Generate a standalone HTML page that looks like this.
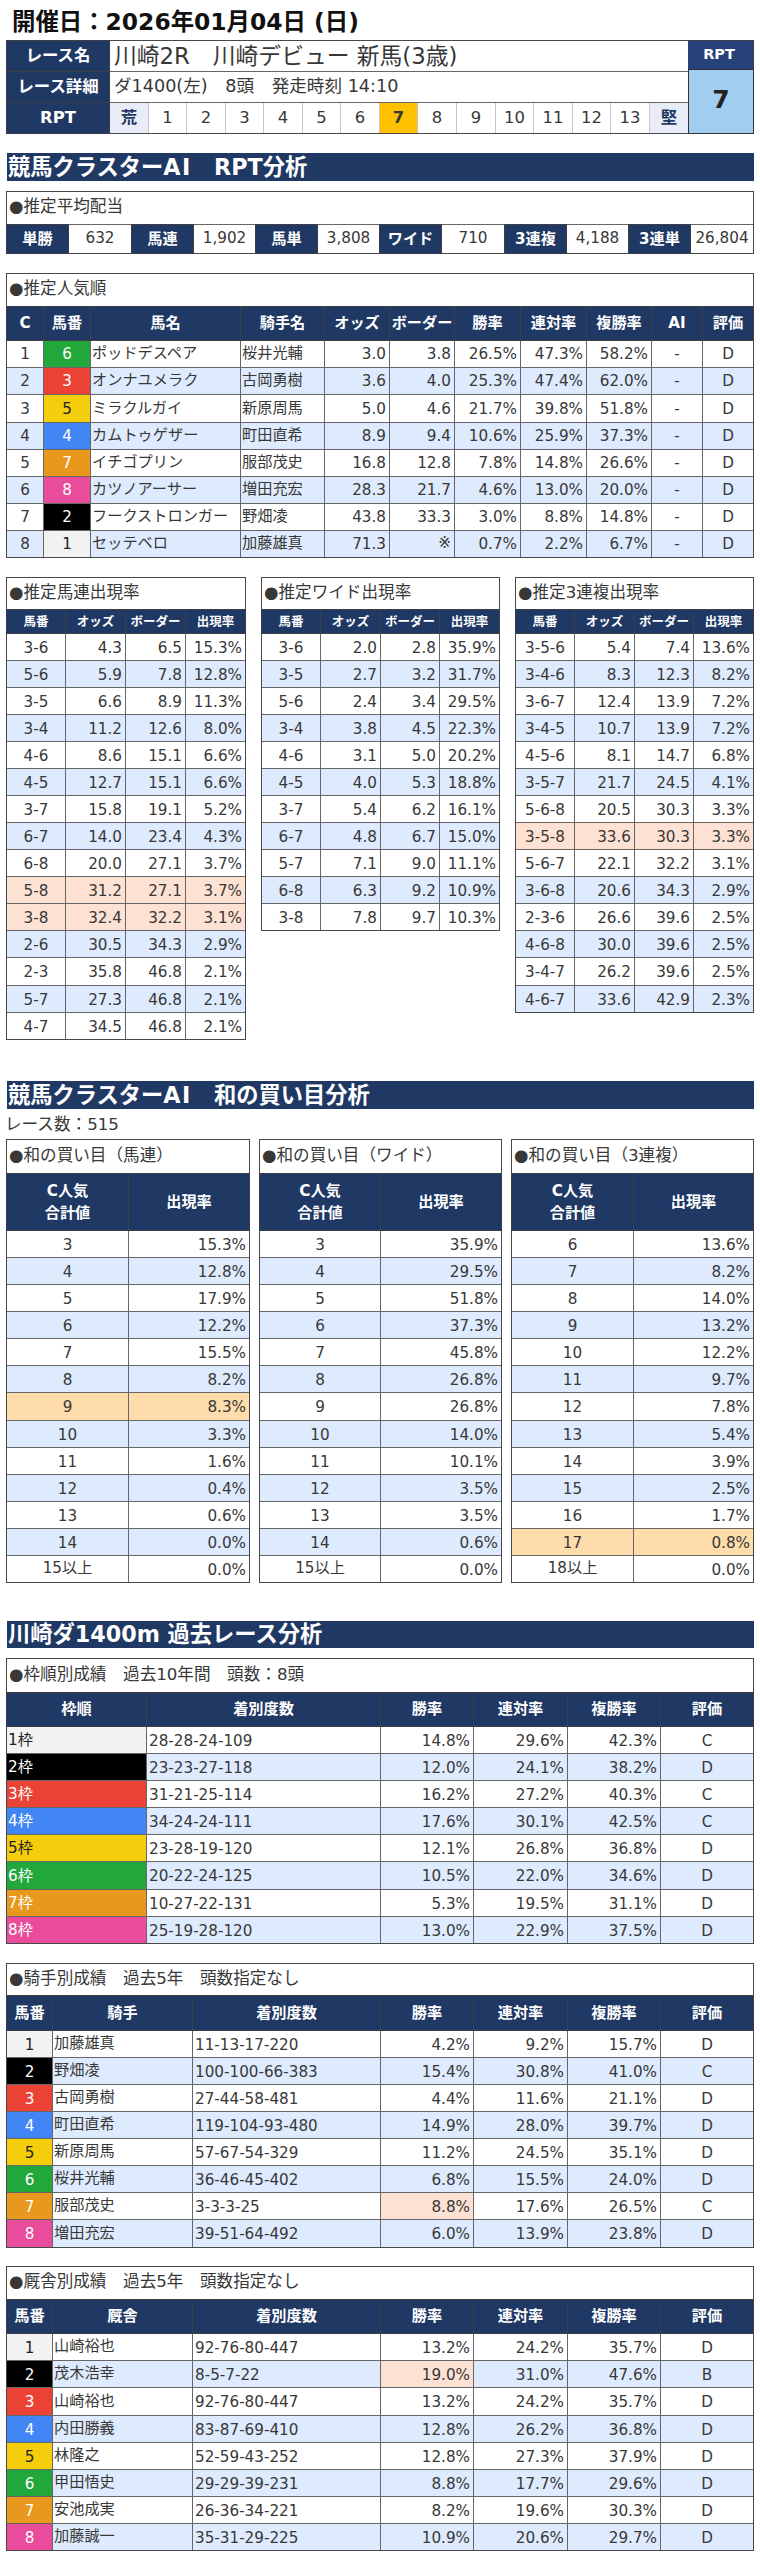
<!DOCTYPE html>
<html lang="ja"><head><meta charset="utf-8"><title>競馬クラスターAI RPT分析</title>
<style>
html,body{margin:0;padding:0;background:#fff}
body{width:760px;height:2560px;position:relative;overflow:hidden;
 font-family:"DejaVu Sans","Noto Sans CJK JP",sans-serif;font-size:15.2px;color:#383838}
.title{position:absolute;font-weight:bold;font-size:23.4px;line-height:32px;white-space:nowrap;color:#111}
.t{position:absolute;border:1px solid #484848;background:#666}
.c{position:absolute;background:#fff;display:flex;align-items:center;justify-content:center;
 white-space:nowrap;box-sizing:border-box;overflow:hidden;line-height:1}
.c.l{justify-content:flex-start;padding-left:1px}
.c.l0{justify-content:flex-start;padding-left:1px;padding-top:2px}
.c.r{justify-content:flex-end;padding-right:3px}
.c.h{background:#1f3864;color:#fff;font-weight:bold;padding-top:1px;outline:1px solid #3d3f45}
.c.n{padding-top:3px}
.c.n2{padding-top:2px}
.c.alt{background:#deeafd}
.c.peach{background:#fde1d3}
.c.org{background:#ffdcab}
.c.lav{background:#e8ecf6;color:#1f3864}
.c.sep{border-left:1px solid #c6c6c6}
.rpth{position:absolute;box-sizing:border-box;background:#27427a;color:#fff;font-weight:bold;font-size:14.5px;display:flex;align-items:center;justify-content:center;border:1px solid #3d3f45;border-bottom:0;border-left:0;line-height:1;padding-right:3px;padding-bottom:1px}
.rptv{position:absolute;box-sizing:border-box;background:#a0cdf0;color:#222;font-weight:bold;font-size:25px;display:flex;align-items:center;justify-content:center;border:1px solid #333;line-height:1;padding-bottom:4px}
.c.gold{background:#ffc000}
.c.bd{font-weight:bold}
.c.cap{font-size:16.6px;padding-left:2px;padding-bottom:1px}
.c.two{text-align:center;line-height:21.5px}
.b16{font-size:16.4px} .b15{font-size:15.2px} .b14{font-size:14px} .b12{font-size:12.5px}
.f19{font-size:22.8px} .f17{font-size:17.6px} .f16{font-size:16.4px}
.bar{position:absolute;background:#1f3864;color:#fff;font-weight:bold;font-size:22.25px;display:flex;align-items:center;
 white-space:nowrap;padding-left:1px;box-sizing:border-box;line-height:1}
.ls{letter-spacing:1.5px}
.note{position:absolute;font-size:16.6px;line-height:24px;white-space:nowrap}
</style></head>
<body>
<div class="title" style="left:12px;top:6px">開催日：2026年01月04日 (日)</div>
<div class="t " style="left:6px;top:40px;width:681px;height:92px">
<div class="c h b16" style="left:0px;top:0px;width:102px;height:30px;">レース名</div>
<div class="c l f19" style="left:103px;top:0px;width:578px;height:30px;padding-left:4px">川崎2R　川崎デビュー 新馬(3歳)</div>
<div class="c h b16" style="left:0px;top:31px;width:102px;height:30px;">レース詳細</div>
<div class="c l f17" style="left:103px;top:31px;width:578px;height:30px;padding-left:4px">ダ1400(左)　8頭　発走時刻 14:10</div>
<div class="c h b16" style="left:0px;top:62px;width:102px;height:30px;">RPT</div>
<div class="c lav bd f16" style="left:103px;top:62px;width:38px;height:30px;">荒</div>
<div class="c f16 sep" style="left:141px;top:62px;width:38px;height:30px;">1</div>
<div class="c f16 sep" style="left:179px;top:62px;width:39px;height:30px;">2</div>
<div class="c f16 sep" style="left:218px;top:62px;width:38px;height:30px;">3</div>
<div class="c f16 sep" style="left:256px;top:62px;width:39px;height:30px;">4</div>
<div class="c f16 sep" style="left:295px;top:62px;width:38px;height:30px;">5</div>
<div class="c f16 sep" style="left:333px;top:62px;width:39px;height:30px;">6</div>
<div class="c gold bd f16 sep" style="left:372px;top:62px;width:38px;height:30px;">7</div>
<div class="c f16 sep" style="left:410px;top:62px;width:39px;height:30px;">8</div>
<div class="c f16 sep" style="left:449px;top:62px;width:39px;height:30px;">9</div>
<div class="c f16 sep" style="left:488px;top:62px;width:38px;height:30px;">10</div>
<div class="c f16 sep" style="left:526px;top:62px;width:39px;height:30px;">11</div>
<div class="c f16 sep" style="left:565px;top:62px;width:38px;height:30px;">12</div>
<div class="c f16 sep" style="left:603px;top:62px;width:39px;height:30px;">13</div>
<div class="c lav bd f16 sep" style="left:642px;top:62px;width:39px;height:30px;">堅</div>
</div>
<div class="rpth" style="left:688px;top:40px;width:66px;height:29px">RPT</div>
<div class="rptv" style="left:688px;top:69px;width:66px;height:65px">7</div>
<div class="bar" style="left:7px;top:153px;width:747px;height:28px">競馬クラスター<span class="ls">AI</span>　RPT分析</div>
<div class="t " style="left:6px;top:191px;width:746px;height:61px">
<div class="c l cap" style="left:0px;top:0px;width:746px;height:32px;">●推定平均配当</div>
<div class="c h b15" style="left:0px;top:33px;width:61px;height:28px;">単勝</div>
<div class="c " style="left:62px;top:33px;width:62px;height:28px;">632</div>
<div class="c h b15" style="left:125px;top:33px;width:61px;height:28px;">馬連</div>
<div class="c " style="left:187px;top:33px;width:61px;height:28px;">1,902</div>
<div class="c h b15" style="left:249px;top:33px;width:61px;height:28px;">馬単</div>
<div class="c " style="left:311px;top:33px;width:61px;height:28px;">3,808</div>
<div class="c h b15" style="left:373px;top:33px;width:61px;height:28px;">ワイド</div>
<div class="c " style="left:435px;top:33px;width:62px;height:28px;">710</div>
<div class="c h b15" style="left:498px;top:33px;width:61px;height:28px;">3連複</div>
<div class="c " style="left:560px;top:33px;width:61px;height:28px;">4,188</div>
<div class="c h b15" style="left:622px;top:33px;width:61px;height:28px;">3連単</div>
<div class="c " style="left:684px;top:33px;width:62px;height:28px;">26,804</div>
</div>
<div class="t dn2" style="left:6px;top:273px;width:746px;height:283px">
<div class="c l cap" style="left:0px;top:0px;width:746px;height:32px;">●推定人気順</div>
<div class="c h b15" style="left:0px;top:33px;width:36px;height:33px;">C</div>
<div class="c h b15" style="left:37px;top:33px;width:46px;height:33px;">馬番</div>
<div class="c h b15" style="left:84px;top:33px;width:149px;height:33px;">馬名</div>
<div class="c h b15" style="left:234px;top:33px;width:83px;height:33px;">騎手名</div>
<div class="c h b15" style="left:318px;top:33px;width:64px;height:33px;">オッズ</div>
<div class="c h b15" style="left:383px;top:33px;width:64px;height:33px;">ボーダー</div>
<div class="c h b15" style="left:448px;top:33px;width:65px;height:33px;">勝率</div>
<div class="c h b15" style="left:514px;top:33px;width:65px;height:33px;">連対率</div>
<div class="c h b15" style="left:580px;top:33px;width:64px;height:33px;">複勝率</div>
<div class="c h b15" style="left:645px;top:33px;width:50px;height:33px;">AI</div>
<div class="c h b15" style="left:696px;top:33px;width:50px;height:33px;">評価</div>
<div class="c  n2" style="left:0px;top:67px;width:36px;height:26px;">1</div>
<div class="c  n2" style="left:37px;top:67px;width:46px;height:26px;background:#21a73a;color:#fff;">6</div>
<div class="c l" style="left:84px;top:67px;width:149px;height:26px;">ポッドデスペア</div>
<div class="c l" style="left:234px;top:67px;width:83px;height:26px;">桜井光輔</div>
<div class="c r n2" style="left:318px;top:67px;width:64px;height:26px;">3.0</div>
<div class="c r n2" style="left:383px;top:67px;width:64px;height:26px;">3.8</div>
<div class="c r n2" style="left:448px;top:67px;width:65px;height:26px;">26.5%</div>
<div class="c r n2" style="left:514px;top:67px;width:65px;height:26px;">47.3%</div>
<div class="c r n2" style="left:580px;top:67px;width:64px;height:26px;">58.2%</div>
<div class="c  n2" style="left:645px;top:67px;width:50px;height:26px;">-</div>
<div class="c  n2" style="left:696px;top:67px;width:50px;height:26px;">D</div>
<div class="c  alt n2" style="left:0px;top:94px;width:36px;height:26px;">2</div>
<div class="c  alt n2" style="left:37px;top:94px;width:46px;height:26px;background:#ea4335;color:#fff;">3</div>
<div class="c l alt" style="left:84px;top:94px;width:149px;height:26px;">オンナユメラク</div>
<div class="c l alt" style="left:234px;top:94px;width:83px;height:26px;">古岡勇樹</div>
<div class="c r alt n2" style="left:318px;top:94px;width:64px;height:26px;">3.6</div>
<div class="c r alt n2" style="left:383px;top:94px;width:64px;height:26px;">4.0</div>
<div class="c r alt n2" style="left:448px;top:94px;width:65px;height:26px;">25.3%</div>
<div class="c r alt n2" style="left:514px;top:94px;width:65px;height:26px;">47.4%</div>
<div class="c r alt n2" style="left:580px;top:94px;width:64px;height:26px;">62.0%</div>
<div class="c  alt n2" style="left:645px;top:94px;width:50px;height:26px;">-</div>
<div class="c  alt n2" style="left:696px;top:94px;width:50px;height:26px;">D</div>
<div class="c  n2" style="left:0px;top:121px;width:36px;height:27px;">3</div>
<div class="c  n2" style="left:37px;top:121px;width:46px;height:27px;background:#f4cd0c;color:#222;">5</div>
<div class="c l" style="left:84px;top:121px;width:149px;height:27px;">ミラクルガイ</div>
<div class="c l" style="left:234px;top:121px;width:83px;height:27px;">新原周馬</div>
<div class="c r n2" style="left:318px;top:121px;width:64px;height:27px;">5.0</div>
<div class="c r n2" style="left:383px;top:121px;width:64px;height:27px;">4.6</div>
<div class="c r n2" style="left:448px;top:121px;width:65px;height:27px;">21.7%</div>
<div class="c r n2" style="left:514px;top:121px;width:65px;height:27px;">39.8%</div>
<div class="c r n2" style="left:580px;top:121px;width:64px;height:27px;">51.8%</div>
<div class="c  n2" style="left:645px;top:121px;width:50px;height:27px;">-</div>
<div class="c  n2" style="left:696px;top:121px;width:50px;height:27px;">D</div>
<div class="c  alt n2" style="left:0px;top:149px;width:36px;height:26px;">4</div>
<div class="c  alt n2" style="left:37px;top:149px;width:46px;height:26px;background:#4285f4;color:#fff;">4</div>
<div class="c l alt" style="left:84px;top:149px;width:149px;height:26px;">カムトゥゲザー</div>
<div class="c l alt" style="left:234px;top:149px;width:83px;height:26px;">町田直希</div>
<div class="c r alt n2" style="left:318px;top:149px;width:64px;height:26px;">8.9</div>
<div class="c r alt n2" style="left:383px;top:149px;width:64px;height:26px;">9.4</div>
<div class="c r alt n2" style="left:448px;top:149px;width:65px;height:26px;">10.6%</div>
<div class="c r alt n2" style="left:514px;top:149px;width:65px;height:26px;">25.9%</div>
<div class="c r alt n2" style="left:580px;top:149px;width:64px;height:26px;">37.3%</div>
<div class="c  alt n2" style="left:645px;top:149px;width:50px;height:26px;">-</div>
<div class="c  alt n2" style="left:696px;top:149px;width:50px;height:26px;">D</div>
<div class="c  n2" style="left:0px;top:176px;width:36px;height:26px;">5</div>
<div class="c  n2" style="left:37px;top:176px;width:46px;height:26px;background:#e8981c;color:#fff;">7</div>
<div class="c l" style="left:84px;top:176px;width:149px;height:26px;">イチゴプリン</div>
<div class="c l" style="left:234px;top:176px;width:83px;height:26px;">服部茂史</div>
<div class="c r n2" style="left:318px;top:176px;width:64px;height:26px;">16.8</div>
<div class="c r n2" style="left:383px;top:176px;width:64px;height:26px;">12.8</div>
<div class="c r n2" style="left:448px;top:176px;width:65px;height:26px;">7.8%</div>
<div class="c r n2" style="left:514px;top:176px;width:65px;height:26px;">14.8%</div>
<div class="c r n2" style="left:580px;top:176px;width:64px;height:26px;">26.6%</div>
<div class="c  n2" style="left:645px;top:176px;width:50px;height:26px;">-</div>
<div class="c  n2" style="left:696px;top:176px;width:50px;height:26px;">D</div>
<div class="c  alt n2" style="left:0px;top:203px;width:36px;height:26px;">6</div>
<div class="c  alt n2" style="left:37px;top:203px;width:46px;height:26px;background:#e84c9a;color:#fff;">8</div>
<div class="c l alt" style="left:84px;top:203px;width:149px;height:26px;">カツノアーサー</div>
<div class="c l alt" style="left:234px;top:203px;width:83px;height:26px;">増田充宏</div>
<div class="c r alt n2" style="left:318px;top:203px;width:64px;height:26px;">28.3</div>
<div class="c r alt n2" style="left:383px;top:203px;width:64px;height:26px;">21.7</div>
<div class="c r alt n2" style="left:448px;top:203px;width:65px;height:26px;">4.6%</div>
<div class="c r alt n2" style="left:514px;top:203px;width:65px;height:26px;">13.0%</div>
<div class="c r alt n2" style="left:580px;top:203px;width:64px;height:26px;">20.0%</div>
<div class="c  alt n2" style="left:645px;top:203px;width:50px;height:26px;">-</div>
<div class="c  alt n2" style="left:696px;top:203px;width:50px;height:26px;">D</div>
<div class="c  n2" style="left:0px;top:230px;width:36px;height:26px;">7</div>
<div class="c  n2" style="left:37px;top:230px;width:46px;height:26px;background:#000;color:#fff;">2</div>
<div class="c l" style="left:84px;top:230px;width:149px;height:26px;">フークストロンガー</div>
<div class="c l" style="left:234px;top:230px;width:83px;height:26px;">野畑凌</div>
<div class="c r n2" style="left:318px;top:230px;width:64px;height:26px;">43.8</div>
<div class="c r n2" style="left:383px;top:230px;width:64px;height:26px;">33.3</div>
<div class="c r n2" style="left:448px;top:230px;width:65px;height:26px;">3.0%</div>
<div class="c r n2" style="left:514px;top:230px;width:65px;height:26px;">8.8%</div>
<div class="c r n2" style="left:580px;top:230px;width:64px;height:26px;">14.8%</div>
<div class="c  n2" style="left:645px;top:230px;width:50px;height:26px;">-</div>
<div class="c  n2" style="left:696px;top:230px;width:50px;height:26px;">D</div>
<div class="c  alt n2" style="left:0px;top:257px;width:36px;height:26px;">8</div>
<div class="c  alt n2" style="left:37px;top:257px;width:46px;height:26px;background:#f2f2f2;color:#222;">1</div>
<div class="c l alt" style="left:84px;top:257px;width:149px;height:26px;">セッテベロ</div>
<div class="c l alt" style="left:234px;top:257px;width:83px;height:26px;">加藤雄真</div>
<div class="c r alt n2" style="left:318px;top:257px;width:64px;height:26px;">71.3</div>
<div class="c r alt" style="left:383px;top:257px;width:64px;height:26px;">※</div>
<div class="c r alt n2" style="left:448px;top:257px;width:65px;height:26px;">0.7%</div>
<div class="c r alt n2" style="left:514px;top:257px;width:65px;height:26px;">2.2%</div>
<div class="c r alt n2" style="left:580px;top:257px;width:64px;height:26px;">6.7%</div>
<div class="c  alt n2" style="left:645px;top:257px;width:50px;height:26px;">-</div>
<div class="c  alt n2" style="left:696px;top:257px;width:50px;height:26px;">D</div>
</div>
<div class="t dn" style="left:6px;top:577px;width:238px;height:461px">
<div class="c l cap" style="left:0px;top:0px;width:238px;height:31px;">●推定馬連出現率</div>
<div class="c h b12" style="left:0px;top:32px;width:58px;height:23px;">馬番</div>
<div class="c h b12" style="left:59px;top:32px;width:59px;height:23px;">オッズ</div>
<div class="c h b12" style="left:119px;top:32px;width:59px;height:23px;">ボーダー</div>
<div class="c h b12" style="left:179px;top:32px;width:59px;height:23px;">出現率</div>
<div class="c  n" style="left:0px;top:56px;width:58px;height:26px;">3-6</div>
<div class="c r n" style="left:59px;top:56px;width:59px;height:26px;">4.3</div>
<div class="c r n" style="left:119px;top:56px;width:59px;height:26px;">6.5</div>
<div class="c r n" style="left:179px;top:56px;width:59px;height:26px;">15.3%</div>
<div class="c  alt n" style="left:0px;top:83px;width:58px;height:26px;">5-6</div>
<div class="c r alt n" style="left:59px;top:83px;width:59px;height:26px;">5.9</div>
<div class="c r alt n" style="left:119px;top:83px;width:59px;height:26px;">7.8</div>
<div class="c r alt n" style="left:179px;top:83px;width:59px;height:26px;">12.8%</div>
<div class="c  n" style="left:0px;top:110px;width:58px;height:26px;">3-5</div>
<div class="c r n" style="left:59px;top:110px;width:59px;height:26px;">6.6</div>
<div class="c r n" style="left:119px;top:110px;width:59px;height:26px;">8.9</div>
<div class="c r n" style="left:179px;top:110px;width:59px;height:26px;">11.3%</div>
<div class="c  alt n" style="left:0px;top:137px;width:58px;height:26px;">3-4</div>
<div class="c r alt n" style="left:59px;top:137px;width:59px;height:26px;">11.2</div>
<div class="c r alt n" style="left:119px;top:137px;width:59px;height:26px;">12.6</div>
<div class="c r alt n" style="left:179px;top:137px;width:59px;height:26px;">8.0%</div>
<div class="c  n" style="left:0px;top:164px;width:58px;height:26px;">4-6</div>
<div class="c r n" style="left:59px;top:164px;width:59px;height:26px;">8.6</div>
<div class="c r n" style="left:119px;top:164px;width:59px;height:26px;">15.1</div>
<div class="c r n" style="left:179px;top:164px;width:59px;height:26px;">6.6%</div>
<div class="c  alt n" style="left:0px;top:191px;width:58px;height:26px;">4-5</div>
<div class="c r alt n" style="left:59px;top:191px;width:59px;height:26px;">12.7</div>
<div class="c r alt n" style="left:119px;top:191px;width:59px;height:26px;">15.1</div>
<div class="c r alt n" style="left:179px;top:191px;width:59px;height:26px;">6.6%</div>
<div class="c  n" style="left:0px;top:218px;width:58px;height:26px;">3-7</div>
<div class="c r n" style="left:59px;top:218px;width:59px;height:26px;">15.8</div>
<div class="c r n" style="left:119px;top:218px;width:59px;height:26px;">19.1</div>
<div class="c r n" style="left:179px;top:218px;width:59px;height:26px;">5.2%</div>
<div class="c  alt n" style="left:0px;top:245px;width:58px;height:26px;">6-7</div>
<div class="c r alt n" style="left:59px;top:245px;width:59px;height:26px;">14.0</div>
<div class="c r alt n" style="left:119px;top:245px;width:59px;height:26px;">23.4</div>
<div class="c r alt n" style="left:179px;top:245px;width:59px;height:26px;">4.3%</div>
<div class="c  n" style="left:0px;top:272px;width:58px;height:26px;">6-8</div>
<div class="c r n" style="left:59px;top:272px;width:59px;height:26px;">20.0</div>
<div class="c r n" style="left:119px;top:272px;width:59px;height:26px;">27.1</div>
<div class="c r n" style="left:179px;top:272px;width:59px;height:26px;">3.7%</div>
<div class="c  peach n" style="left:0px;top:299px;width:58px;height:26px;">5-8</div>
<div class="c r peach n" style="left:59px;top:299px;width:59px;height:26px;">31.2</div>
<div class="c r peach n" style="left:119px;top:299px;width:59px;height:26px;">27.1</div>
<div class="c r peach n" style="left:179px;top:299px;width:59px;height:26px;">3.7%</div>
<div class="c  peach n" style="left:0px;top:326px;width:58px;height:26px;">3-8</div>
<div class="c r peach n" style="left:59px;top:326px;width:59px;height:26px;">32.4</div>
<div class="c r peach n" style="left:119px;top:326px;width:59px;height:26px;">32.2</div>
<div class="c r peach n" style="left:179px;top:326px;width:59px;height:26px;">3.1%</div>
<div class="c  alt n" style="left:0px;top:353px;width:58px;height:26px;">2-6</div>
<div class="c r alt n" style="left:59px;top:353px;width:59px;height:26px;">30.5</div>
<div class="c r alt n" style="left:119px;top:353px;width:59px;height:26px;">34.3</div>
<div class="c r alt n" style="left:179px;top:353px;width:59px;height:26px;">2.9%</div>
<div class="c  n" style="left:0px;top:380px;width:58px;height:27px;">2-3</div>
<div class="c r n" style="left:59px;top:380px;width:59px;height:27px;">35.8</div>
<div class="c r n" style="left:119px;top:380px;width:59px;height:27px;">46.8</div>
<div class="c r n" style="left:179px;top:380px;width:59px;height:27px;">2.1%</div>
<div class="c  alt n" style="left:0px;top:408px;width:58px;height:26px;">5-7</div>
<div class="c r alt n" style="left:59px;top:408px;width:59px;height:26px;">27.3</div>
<div class="c r alt n" style="left:119px;top:408px;width:59px;height:26px;">46.8</div>
<div class="c r alt n" style="left:179px;top:408px;width:59px;height:26px;">2.1%</div>
<div class="c  n" style="left:0px;top:435px;width:58px;height:26px;">4-7</div>
<div class="c r n" style="left:59px;top:435px;width:59px;height:26px;">34.5</div>
<div class="c r n" style="left:119px;top:435px;width:59px;height:26px;">46.8</div>
<div class="c r n" style="left:179px;top:435px;width:59px;height:26px;">2.1%</div>
</div>
<div class="t dn" style="left:261px;top:577px;width:237px;height:352px">
<div class="c l cap" style="left:0px;top:0px;width:237px;height:31px;">●推定ワイド出現率</div>
<div class="c h b12" style="left:0px;top:32px;width:58px;height:23px;">馬番</div>
<div class="c h b12" style="left:59px;top:32px;width:59px;height:23px;">オッズ</div>
<div class="c h b12" style="left:119px;top:32px;width:58px;height:23px;">ボーダー</div>
<div class="c h b12" style="left:178px;top:32px;width:59px;height:23px;">出現率</div>
<div class="c  n" style="left:0px;top:56px;width:58px;height:26px;">3-6</div>
<div class="c r n" style="left:59px;top:56px;width:59px;height:26px;">2.0</div>
<div class="c r n" style="left:119px;top:56px;width:58px;height:26px;">2.8</div>
<div class="c r n" style="left:178px;top:56px;width:59px;height:26px;">35.9%</div>
<div class="c  alt n" style="left:0px;top:83px;width:58px;height:26px;">3-5</div>
<div class="c r alt n" style="left:59px;top:83px;width:59px;height:26px;">2.7</div>
<div class="c r alt n" style="left:119px;top:83px;width:58px;height:26px;">3.2</div>
<div class="c r alt n" style="left:178px;top:83px;width:59px;height:26px;">31.7%</div>
<div class="c  n" style="left:0px;top:110px;width:58px;height:26px;">5-6</div>
<div class="c r n" style="left:59px;top:110px;width:59px;height:26px;">2.4</div>
<div class="c r n" style="left:119px;top:110px;width:58px;height:26px;">3.4</div>
<div class="c r n" style="left:178px;top:110px;width:59px;height:26px;">29.5%</div>
<div class="c  alt n" style="left:0px;top:137px;width:58px;height:26px;">3-4</div>
<div class="c r alt n" style="left:59px;top:137px;width:59px;height:26px;">3.8</div>
<div class="c r alt n" style="left:119px;top:137px;width:58px;height:26px;">4.5</div>
<div class="c r alt n" style="left:178px;top:137px;width:59px;height:26px;">22.3%</div>
<div class="c  n" style="left:0px;top:164px;width:58px;height:26px;">4-6</div>
<div class="c r n" style="left:59px;top:164px;width:59px;height:26px;">3.1</div>
<div class="c r n" style="left:119px;top:164px;width:58px;height:26px;">5.0</div>
<div class="c r n" style="left:178px;top:164px;width:59px;height:26px;">20.2%</div>
<div class="c  alt n" style="left:0px;top:191px;width:58px;height:26px;">4-5</div>
<div class="c r alt n" style="left:59px;top:191px;width:59px;height:26px;">4.0</div>
<div class="c r alt n" style="left:119px;top:191px;width:58px;height:26px;">5.3</div>
<div class="c r alt n" style="left:178px;top:191px;width:59px;height:26px;">18.8%</div>
<div class="c  n" style="left:0px;top:218px;width:58px;height:26px;">3-7</div>
<div class="c r n" style="left:59px;top:218px;width:59px;height:26px;">5.4</div>
<div class="c r n" style="left:119px;top:218px;width:58px;height:26px;">6.2</div>
<div class="c r n" style="left:178px;top:218px;width:59px;height:26px;">16.1%</div>
<div class="c  alt n" style="left:0px;top:245px;width:58px;height:26px;">6-7</div>
<div class="c r alt n" style="left:59px;top:245px;width:59px;height:26px;">4.8</div>
<div class="c r alt n" style="left:119px;top:245px;width:58px;height:26px;">6.7</div>
<div class="c r alt n" style="left:178px;top:245px;width:59px;height:26px;">15.0%</div>
<div class="c  n" style="left:0px;top:272px;width:58px;height:26px;">5-7</div>
<div class="c r n" style="left:59px;top:272px;width:59px;height:26px;">7.1</div>
<div class="c r n" style="left:119px;top:272px;width:58px;height:26px;">9.0</div>
<div class="c r n" style="left:178px;top:272px;width:59px;height:26px;">11.1%</div>
<div class="c  alt n" style="left:0px;top:299px;width:58px;height:26px;">6-8</div>
<div class="c r alt n" style="left:59px;top:299px;width:59px;height:26px;">6.3</div>
<div class="c r alt n" style="left:119px;top:299px;width:58px;height:26px;">9.2</div>
<div class="c r alt n" style="left:178px;top:299px;width:59px;height:26px;">10.9%</div>
<div class="c  n" style="left:0px;top:326px;width:58px;height:26px;">3-8</div>
<div class="c r n" style="left:59px;top:326px;width:59px;height:26px;">7.8</div>
<div class="c r n" style="left:119px;top:326px;width:58px;height:26px;">9.7</div>
<div class="c r n" style="left:178px;top:326px;width:59px;height:26px;">10.3%</div>
</div>
<div class="t dn" style="left:515px;top:577px;width:237px;height:434px">
<div class="c l cap" style="left:0px;top:0px;width:237px;height:31px;">●推定3連複出現率</div>
<div class="c h b12" style="left:0px;top:32px;width:58px;height:23px;">馬番</div>
<div class="c h b12" style="left:59px;top:32px;width:59px;height:23px;">オッズ</div>
<div class="c h b12" style="left:119px;top:32px;width:58px;height:23px;">ボーダー</div>
<div class="c h b12" style="left:178px;top:32px;width:59px;height:23px;">出現率</div>
<div class="c  n" style="left:0px;top:56px;width:58px;height:26px;">3-5-6</div>
<div class="c r n" style="left:59px;top:56px;width:59px;height:26px;">5.4</div>
<div class="c r n" style="left:119px;top:56px;width:58px;height:26px;">7.4</div>
<div class="c r n" style="left:178px;top:56px;width:59px;height:26px;">13.6%</div>
<div class="c  alt n" style="left:0px;top:83px;width:58px;height:26px;">3-4-6</div>
<div class="c r alt n" style="left:59px;top:83px;width:59px;height:26px;">8.3</div>
<div class="c r alt n" style="left:119px;top:83px;width:58px;height:26px;">12.3</div>
<div class="c r alt n" style="left:178px;top:83px;width:59px;height:26px;">8.2%</div>
<div class="c  n" style="left:0px;top:110px;width:58px;height:26px;">3-6-7</div>
<div class="c r n" style="left:59px;top:110px;width:59px;height:26px;">12.4</div>
<div class="c r n" style="left:119px;top:110px;width:58px;height:26px;">13.9</div>
<div class="c r n" style="left:178px;top:110px;width:59px;height:26px;">7.2%</div>
<div class="c  alt n" style="left:0px;top:137px;width:58px;height:26px;">3-4-5</div>
<div class="c r alt n" style="left:59px;top:137px;width:59px;height:26px;">10.7</div>
<div class="c r alt n" style="left:119px;top:137px;width:58px;height:26px;">13.9</div>
<div class="c r alt n" style="left:178px;top:137px;width:59px;height:26px;">7.2%</div>
<div class="c  n" style="left:0px;top:164px;width:58px;height:26px;">4-5-6</div>
<div class="c r n" style="left:59px;top:164px;width:59px;height:26px;">8.1</div>
<div class="c r n" style="left:119px;top:164px;width:58px;height:26px;">14.7</div>
<div class="c r n" style="left:178px;top:164px;width:59px;height:26px;">6.8%</div>
<div class="c  alt n" style="left:0px;top:191px;width:58px;height:26px;">3-5-7</div>
<div class="c r alt n" style="left:59px;top:191px;width:59px;height:26px;">21.7</div>
<div class="c r alt n" style="left:119px;top:191px;width:58px;height:26px;">24.5</div>
<div class="c r alt n" style="left:178px;top:191px;width:59px;height:26px;">4.1%</div>
<div class="c  n" style="left:0px;top:218px;width:58px;height:26px;">5-6-8</div>
<div class="c r n" style="left:59px;top:218px;width:59px;height:26px;">20.5</div>
<div class="c r n" style="left:119px;top:218px;width:58px;height:26px;">30.3</div>
<div class="c r n" style="left:178px;top:218px;width:59px;height:26px;">3.3%</div>
<div class="c  peach n" style="left:0px;top:245px;width:58px;height:26px;">3-5-8</div>
<div class="c r peach n" style="left:59px;top:245px;width:59px;height:26px;">33.6</div>
<div class="c r peach n" style="left:119px;top:245px;width:58px;height:26px;">30.3</div>
<div class="c r peach n" style="left:178px;top:245px;width:59px;height:26px;">3.3%</div>
<div class="c  n" style="left:0px;top:272px;width:58px;height:26px;">5-6-7</div>
<div class="c r n" style="left:59px;top:272px;width:59px;height:26px;">22.1</div>
<div class="c r n" style="left:119px;top:272px;width:58px;height:26px;">32.2</div>
<div class="c r n" style="left:178px;top:272px;width:59px;height:26px;">3.1%</div>
<div class="c  alt n" style="left:0px;top:299px;width:58px;height:26px;">3-6-8</div>
<div class="c r alt n" style="left:59px;top:299px;width:59px;height:26px;">20.6</div>
<div class="c r alt n" style="left:119px;top:299px;width:58px;height:26px;">34.3</div>
<div class="c r alt n" style="left:178px;top:299px;width:59px;height:26px;">2.9%</div>
<div class="c  n" style="left:0px;top:326px;width:58px;height:26px;">2-3-6</div>
<div class="c r n" style="left:59px;top:326px;width:59px;height:26px;">26.6</div>
<div class="c r n" style="left:119px;top:326px;width:58px;height:26px;">39.6</div>
<div class="c r n" style="left:178px;top:326px;width:59px;height:26px;">2.5%</div>
<div class="c  alt n" style="left:0px;top:353px;width:58px;height:26px;">4-6-8</div>
<div class="c r alt n" style="left:59px;top:353px;width:59px;height:26px;">30.0</div>
<div class="c r alt n" style="left:119px;top:353px;width:58px;height:26px;">39.6</div>
<div class="c r alt n" style="left:178px;top:353px;width:59px;height:26px;">2.5%</div>
<div class="c  n" style="left:0px;top:380px;width:58px;height:27px;">3-4-7</div>
<div class="c r n" style="left:59px;top:380px;width:59px;height:27px;">26.2</div>
<div class="c r n" style="left:119px;top:380px;width:58px;height:27px;">39.6</div>
<div class="c r n" style="left:178px;top:380px;width:59px;height:27px;">2.5%</div>
<div class="c  alt n" style="left:0px;top:408px;width:58px;height:26px;">4-6-7</div>
<div class="c r alt n" style="left:59px;top:408px;width:59px;height:26px;">33.6</div>
<div class="c r alt n" style="left:119px;top:408px;width:58px;height:26px;">42.9</div>
<div class="c r alt n" style="left:178px;top:408px;width:59px;height:26px;">2.3%</div>
</div>
<div class="bar" style="left:7px;top:1081px;width:747px;height:28px">競馬クラスター<span class="ls">AI</span>　和の買い目分析</div>
<div class="note" style="left:5px;top:1112.5px">レース数：515</div>
<div class="t dn" style="left:6px;top:1139px;width:242px;height:442px">
<div class="c l cap" style="left:0px;top:0px;width:242px;height:33px;">●和の買い目（馬連）</div>
<div class="c h b15 two" style="left:0px;top:34px;width:121px;height:56px;">C人気<br>合計値</div>
<div class="c h b15" style="left:122px;top:34px;width:120px;height:56px;">出現率</div>
<div class="c  n" style="left:0px;top:91px;width:121px;height:26px;">3</div>
<div class="c r n" style="left:122px;top:91px;width:120px;height:26px;">15.3%</div>
<div class="c  alt n" style="left:0px;top:118px;width:121px;height:26px;">4</div>
<div class="c r alt n" style="left:122px;top:118px;width:120px;height:26px;">12.8%</div>
<div class="c  n" style="left:0px;top:145px;width:121px;height:26px;">5</div>
<div class="c r n" style="left:122px;top:145px;width:120px;height:26px;">17.9%</div>
<div class="c  alt n" style="left:0px;top:172px;width:121px;height:26px;">6</div>
<div class="c r alt n" style="left:122px;top:172px;width:120px;height:26px;">12.2%</div>
<div class="c  n" style="left:0px;top:199px;width:121px;height:26px;">7</div>
<div class="c r n" style="left:122px;top:199px;width:120px;height:26px;">15.5%</div>
<div class="c  alt n" style="left:0px;top:226px;width:121px;height:26px;">8</div>
<div class="c r alt n" style="left:122px;top:226px;width:120px;height:26px;">8.2%</div>
<div class="c  org n" style="left:0px;top:253px;width:121px;height:27px;">9</div>
<div class="c r org n" style="left:122px;top:253px;width:120px;height:27px;">8.3%</div>
<div class="c  alt n" style="left:0px;top:281px;width:121px;height:26px;">10</div>
<div class="c r alt n" style="left:122px;top:281px;width:120px;height:26px;">3.3%</div>
<div class="c  n" style="left:0px;top:308px;width:121px;height:26px;">11</div>
<div class="c r n" style="left:122px;top:308px;width:120px;height:26px;">1.6%</div>
<div class="c  alt n" style="left:0px;top:335px;width:121px;height:26px;">12</div>
<div class="c r alt n" style="left:122px;top:335px;width:120px;height:26px;">0.4%</div>
<div class="c  n" style="left:0px;top:362px;width:121px;height:26px;">13</div>
<div class="c r n" style="left:122px;top:362px;width:120px;height:26px;">0.6%</div>
<div class="c  alt n" style="left:0px;top:389px;width:121px;height:26px;">14</div>
<div class="c r alt n" style="left:122px;top:389px;width:120px;height:26px;">0.0%</div>
<div class="c " style="left:0px;top:416px;width:121px;height:26px;">15以上</div>
<div class="c r n" style="left:122px;top:416px;width:120px;height:26px;">0.0%</div>
</div>
<div class="t dn" style="left:259px;top:1139px;width:241px;height:442px">
<div class="c l cap" style="left:0px;top:0px;width:241px;height:33px;">●和の買い目（ワイド）</div>
<div class="c h b15 two" style="left:0px;top:34px;width:120px;height:56px;">C人気<br>合計値</div>
<div class="c h b15" style="left:121px;top:34px;width:120px;height:56px;">出現率</div>
<div class="c  n" style="left:0px;top:91px;width:120px;height:26px;">3</div>
<div class="c r n" style="left:121px;top:91px;width:120px;height:26px;">35.9%</div>
<div class="c  alt n" style="left:0px;top:118px;width:120px;height:26px;">4</div>
<div class="c r alt n" style="left:121px;top:118px;width:120px;height:26px;">29.5%</div>
<div class="c  n" style="left:0px;top:145px;width:120px;height:26px;">5</div>
<div class="c r n" style="left:121px;top:145px;width:120px;height:26px;">51.8%</div>
<div class="c  alt n" style="left:0px;top:172px;width:120px;height:26px;">6</div>
<div class="c r alt n" style="left:121px;top:172px;width:120px;height:26px;">37.3%</div>
<div class="c  n" style="left:0px;top:199px;width:120px;height:26px;">7</div>
<div class="c r n" style="left:121px;top:199px;width:120px;height:26px;">45.8%</div>
<div class="c  alt n" style="left:0px;top:226px;width:120px;height:26px;">8</div>
<div class="c r alt n" style="left:121px;top:226px;width:120px;height:26px;">26.8%</div>
<div class="c  n" style="left:0px;top:253px;width:120px;height:27px;">9</div>
<div class="c r n" style="left:121px;top:253px;width:120px;height:27px;">26.8%</div>
<div class="c  alt n" style="left:0px;top:281px;width:120px;height:26px;">10</div>
<div class="c r alt n" style="left:121px;top:281px;width:120px;height:26px;">14.0%</div>
<div class="c  n" style="left:0px;top:308px;width:120px;height:26px;">11</div>
<div class="c r n" style="left:121px;top:308px;width:120px;height:26px;">10.1%</div>
<div class="c  alt n" style="left:0px;top:335px;width:120px;height:26px;">12</div>
<div class="c r alt n" style="left:121px;top:335px;width:120px;height:26px;">3.5%</div>
<div class="c  n" style="left:0px;top:362px;width:120px;height:26px;">13</div>
<div class="c r n" style="left:121px;top:362px;width:120px;height:26px;">3.5%</div>
<div class="c  alt n" style="left:0px;top:389px;width:120px;height:26px;">14</div>
<div class="c r alt n" style="left:121px;top:389px;width:120px;height:26px;">0.6%</div>
<div class="c " style="left:0px;top:416px;width:120px;height:26px;">15以上</div>
<div class="c r n" style="left:121px;top:416px;width:120px;height:26px;">0.0%</div>
</div>
<div class="t dn" style="left:511px;top:1139px;width:241px;height:442px">
<div class="c l cap" style="left:0px;top:0px;width:241px;height:33px;">●和の買い目（3連複）</div>
<div class="c h b15 two" style="left:0px;top:34px;width:121px;height:56px;">C人気<br>合計値</div>
<div class="c h b15" style="left:122px;top:34px;width:119px;height:56px;">出現率</div>
<div class="c  n" style="left:0px;top:91px;width:121px;height:26px;">6</div>
<div class="c r n" style="left:122px;top:91px;width:119px;height:26px;">13.6%</div>
<div class="c  alt n" style="left:0px;top:118px;width:121px;height:26px;">7</div>
<div class="c r alt n" style="left:122px;top:118px;width:119px;height:26px;">8.2%</div>
<div class="c  n" style="left:0px;top:145px;width:121px;height:26px;">8</div>
<div class="c r n" style="left:122px;top:145px;width:119px;height:26px;">14.0%</div>
<div class="c  alt n" style="left:0px;top:172px;width:121px;height:26px;">9</div>
<div class="c r alt n" style="left:122px;top:172px;width:119px;height:26px;">13.2%</div>
<div class="c  n" style="left:0px;top:199px;width:121px;height:26px;">10</div>
<div class="c r n" style="left:122px;top:199px;width:119px;height:26px;">12.2%</div>
<div class="c  alt n" style="left:0px;top:226px;width:121px;height:26px;">11</div>
<div class="c r alt n" style="left:122px;top:226px;width:119px;height:26px;">9.7%</div>
<div class="c  n" style="left:0px;top:253px;width:121px;height:27px;">12</div>
<div class="c r n" style="left:122px;top:253px;width:119px;height:27px;">7.8%</div>
<div class="c  alt n" style="left:0px;top:281px;width:121px;height:26px;">13</div>
<div class="c r alt n" style="left:122px;top:281px;width:119px;height:26px;">5.4%</div>
<div class="c  n" style="left:0px;top:308px;width:121px;height:26px;">14</div>
<div class="c r n" style="left:122px;top:308px;width:119px;height:26px;">3.9%</div>
<div class="c  alt n" style="left:0px;top:335px;width:121px;height:26px;">15</div>
<div class="c r alt n" style="left:122px;top:335px;width:119px;height:26px;">2.5%</div>
<div class="c  n" style="left:0px;top:362px;width:121px;height:26px;">16</div>
<div class="c r n" style="left:122px;top:362px;width:119px;height:26px;">1.7%</div>
<div class="c  org n" style="left:0px;top:389px;width:121px;height:26px;">17</div>
<div class="c r org n" style="left:122px;top:389px;width:119px;height:26px;">0.8%</div>
<div class="c " style="left:0px;top:416px;width:121px;height:26px;">18以上</div>
<div class="c r n" style="left:122px;top:416px;width:119px;height:26px;">0.0%</div>
</div>
<div class="bar" style="left:7px;top:1621px;width:747px;height:27px">川崎ダ1400m 過去レース分析</div>
<div class="t dn" style="left:6px;top:1658px;width:746px;height:284px">
<div class="c l cap" style="left:0px;top:0px;width:746px;height:33px;">●枠順別成績　過去10年間　頭数：8頭</div>
<div class="c h b15" style="left:0px;top:34px;width:139px;height:33px;">枠順</div>
<div class="c h b15" style="left:140px;top:34px;width:233px;height:33px;">着別度数</div>
<div class="c h b15" style="left:374px;top:34px;width:92px;height:33px;">勝率</div>
<div class="c h b15" style="left:467px;top:34px;width:93px;height:33px;">連対率</div>
<div class="c h b15" style="left:561px;top:34px;width:92px;height:33px;">複勝率</div>
<div class="c h b15" style="left:654px;top:34px;width:92px;height:33px;">評価</div>
<div class="c l0" style="left:0px;top:68px;width:139px;height:26px;background:#f2f2f2;color:#222;">1枠</div>
<div class="c l n" style="left:140px;top:68px;width:233px;height:26px;padding-left:2px;">28-28-24-109</div>
<div class="c r n" style="left:374px;top:68px;width:92px;height:26px;">14.8%</div>
<div class="c r n" style="left:467px;top:68px;width:93px;height:26px;">29.6%</div>
<div class="c r n" style="left:561px;top:68px;width:92px;height:26px;">42.3%</div>
<div class="c  n" style="left:654px;top:68px;width:92px;height:26px;">C</div>
<div class="c l0" style="left:0px;top:95px;width:139px;height:26px;background:#000;color:#fff;">2枠</div>
<div class="c l alt n" style="left:140px;top:95px;width:233px;height:26px;padding-left:2px;">23-23-27-118</div>
<div class="c r alt n" style="left:374px;top:95px;width:92px;height:26px;">12.0%</div>
<div class="c r alt n" style="left:467px;top:95px;width:93px;height:26px;">24.1%</div>
<div class="c r alt n" style="left:561px;top:95px;width:92px;height:26px;">38.2%</div>
<div class="c  alt n" style="left:654px;top:95px;width:92px;height:26px;">D</div>
<div class="c l0" style="left:0px;top:122px;width:139px;height:26px;background:#ea4335;color:#fff;">3枠</div>
<div class="c l n" style="left:140px;top:122px;width:233px;height:26px;padding-left:2px;">31-21-25-114</div>
<div class="c r n" style="left:374px;top:122px;width:92px;height:26px;">16.2%</div>
<div class="c r n" style="left:467px;top:122px;width:93px;height:26px;">27.2%</div>
<div class="c r n" style="left:561px;top:122px;width:92px;height:26px;">40.3%</div>
<div class="c  n" style="left:654px;top:122px;width:92px;height:26px;">C</div>
<div class="c l0" style="left:0px;top:149px;width:139px;height:26px;background:#4285f4;color:#fff;">4枠</div>
<div class="c l alt n" style="left:140px;top:149px;width:233px;height:26px;padding-left:2px;">34-24-24-111</div>
<div class="c r alt n" style="left:374px;top:149px;width:92px;height:26px;">17.6%</div>
<div class="c r alt n" style="left:467px;top:149px;width:93px;height:26px;">30.1%</div>
<div class="c r alt n" style="left:561px;top:149px;width:92px;height:26px;">42.5%</div>
<div class="c  alt n" style="left:654px;top:149px;width:92px;height:26px;">C</div>
<div class="c l0" style="left:0px;top:176px;width:139px;height:26px;background:#f4cd0c;color:#222;">5枠</div>
<div class="c l n" style="left:140px;top:176px;width:233px;height:26px;padding-left:2px;">23-28-19-120</div>
<div class="c r n" style="left:374px;top:176px;width:92px;height:26px;">12.1%</div>
<div class="c r n" style="left:467px;top:176px;width:93px;height:26px;">26.8%</div>
<div class="c r n" style="left:561px;top:176px;width:92px;height:26px;">36.8%</div>
<div class="c  n" style="left:654px;top:176px;width:92px;height:26px;">D</div>
<div class="c l0" style="left:0px;top:203px;width:139px;height:27px;background:#21a73a;color:#fff;">6枠</div>
<div class="c l alt n" style="left:140px;top:203px;width:233px;height:27px;padding-left:2px;">20-22-24-125</div>
<div class="c r alt n" style="left:374px;top:203px;width:92px;height:27px;">10.5%</div>
<div class="c r alt n" style="left:467px;top:203px;width:93px;height:27px;">22.0%</div>
<div class="c r alt n" style="left:561px;top:203px;width:92px;height:27px;">34.6%</div>
<div class="c  alt n" style="left:654px;top:203px;width:92px;height:27px;">D</div>
<div class="c l0" style="left:0px;top:231px;width:139px;height:26px;background:#e8981c;color:#fff;">7枠</div>
<div class="c l n" style="left:140px;top:231px;width:233px;height:26px;padding-left:2px;">10-27-22-131</div>
<div class="c r n" style="left:374px;top:231px;width:92px;height:26px;">5.3%</div>
<div class="c r n" style="left:467px;top:231px;width:93px;height:26px;">19.5%</div>
<div class="c r n" style="left:561px;top:231px;width:92px;height:26px;">31.1%</div>
<div class="c  n" style="left:654px;top:231px;width:92px;height:26px;">D</div>
<div class="c l0" style="left:0px;top:258px;width:139px;height:26px;background:#e84c9a;color:#fff;">8枠</div>
<div class="c l alt n" style="left:140px;top:258px;width:233px;height:26px;padding-left:2px;">25-19-28-120</div>
<div class="c r alt n" style="left:374px;top:258px;width:92px;height:26px;">13.0%</div>
<div class="c r alt n" style="left:467px;top:258px;width:93px;height:26px;">22.9%</div>
<div class="c r alt n" style="left:561px;top:258px;width:92px;height:26px;">37.5%</div>
<div class="c  alt n" style="left:654px;top:258px;width:92px;height:26px;">D</div>
</div>
<div class="t dn" style="left:6px;top:1963px;width:746px;height:283px">
<div class="c l cap" style="left:0px;top:0px;width:746px;height:31px;">●騎手別成績　過去5年　頭数指定なし</div>
<div class="c h b15" style="left:0px;top:32px;width:45px;height:34px;">馬番</div>
<div class="c h b15" style="left:46px;top:32px;width:139px;height:34px;">騎手</div>
<div class="c h b15" style="left:186px;top:32px;width:187px;height:34px;">着別度数</div>
<div class="c h b15" style="left:374px;top:32px;width:92px;height:34px;">勝率</div>
<div class="c h b15" style="left:467px;top:32px;width:93px;height:34px;">連対率</div>
<div class="c h b15" style="left:561px;top:32px;width:92px;height:34px;">複勝率</div>
<div class="c h b15" style="left:654px;top:32px;width:92px;height:34px;">評価</div>
<div class="c  n" style="left:0px;top:67px;width:45px;height:26px;background:#f2f2f2;color:#222;">1</div>
<div class="c l" style="left:46px;top:67px;width:139px;height:26px;">加藤雄真</div>
<div class="c l n" style="left:186px;top:67px;width:187px;height:26px;padding-left:2px;">11-13-17-220</div>
<div class="c r n" style="left:374px;top:67px;width:92px;height:26px;">4.2%</div>
<div class="c r n" style="left:467px;top:67px;width:93px;height:26px;">9.2%</div>
<div class="c r n" style="left:561px;top:67px;width:92px;height:26px;">15.7%</div>
<div class="c  n" style="left:654px;top:67px;width:92px;height:26px;">D</div>
<div class="c  n" style="left:0px;top:94px;width:45px;height:26px;background:#000;color:#fff;">2</div>
<div class="c l alt" style="left:46px;top:94px;width:139px;height:26px;">野畑凌</div>
<div class="c l alt n" style="left:186px;top:94px;width:187px;height:26px;padding-left:2px;">100-100-66-383</div>
<div class="c r alt n" style="left:374px;top:94px;width:92px;height:26px;">15.4%</div>
<div class="c r alt n" style="left:467px;top:94px;width:93px;height:26px;">30.8%</div>
<div class="c r alt n" style="left:561px;top:94px;width:92px;height:26px;">41.0%</div>
<div class="c  alt n" style="left:654px;top:94px;width:92px;height:26px;">C</div>
<div class="c  n" style="left:0px;top:121px;width:45px;height:26px;background:#ea4335;color:#fff;">3</div>
<div class="c l" style="left:46px;top:121px;width:139px;height:26px;">古岡勇樹</div>
<div class="c l n" style="left:186px;top:121px;width:187px;height:26px;padding-left:2px;">27-44-58-481</div>
<div class="c r n" style="left:374px;top:121px;width:92px;height:26px;">4.4%</div>
<div class="c r n" style="left:467px;top:121px;width:93px;height:26px;">11.6%</div>
<div class="c r n" style="left:561px;top:121px;width:92px;height:26px;">21.1%</div>
<div class="c  n" style="left:654px;top:121px;width:92px;height:26px;">D</div>
<div class="c  n" style="left:0px;top:148px;width:45px;height:26px;background:#4285f4;color:#fff;">4</div>
<div class="c l alt" style="left:46px;top:148px;width:139px;height:26px;">町田直希</div>
<div class="c l alt n" style="left:186px;top:148px;width:187px;height:26px;padding-left:2px;">119-104-93-480</div>
<div class="c r alt n" style="left:374px;top:148px;width:92px;height:26px;">14.9%</div>
<div class="c r alt n" style="left:467px;top:148px;width:93px;height:26px;">28.0%</div>
<div class="c r alt n" style="left:561px;top:148px;width:92px;height:26px;">39.7%</div>
<div class="c  alt n" style="left:654px;top:148px;width:92px;height:26px;">D</div>
<div class="c  n" style="left:0px;top:175px;width:45px;height:26px;background:#f4cd0c;color:#222;">5</div>
<div class="c l" style="left:46px;top:175px;width:139px;height:26px;">新原周馬</div>
<div class="c l n" style="left:186px;top:175px;width:187px;height:26px;padding-left:2px;">57-67-54-329</div>
<div class="c r n" style="left:374px;top:175px;width:92px;height:26px;">11.2%</div>
<div class="c r n" style="left:467px;top:175px;width:93px;height:26px;">24.5%</div>
<div class="c r n" style="left:561px;top:175px;width:92px;height:26px;">35.1%</div>
<div class="c  n" style="left:654px;top:175px;width:92px;height:26px;">D</div>
<div class="c  n" style="left:0px;top:202px;width:45px;height:26px;background:#21a73a;color:#fff;">6</div>
<div class="c l alt" style="left:46px;top:202px;width:139px;height:26px;">桜井光輔</div>
<div class="c l alt n" style="left:186px;top:202px;width:187px;height:26px;padding-left:2px;">36-46-45-402</div>
<div class="c r alt n" style="left:374px;top:202px;width:92px;height:26px;">6.8%</div>
<div class="c r alt n" style="left:467px;top:202px;width:93px;height:26px;">15.5%</div>
<div class="c r alt n" style="left:561px;top:202px;width:92px;height:26px;">24.0%</div>
<div class="c  alt n" style="left:654px;top:202px;width:92px;height:26px;">D</div>
<div class="c  n" style="left:0px;top:229px;width:45px;height:26px;background:#e8981c;color:#fff;">7</div>
<div class="c l" style="left:46px;top:229px;width:139px;height:26px;">服部茂史</div>
<div class="c l n" style="left:186px;top:229px;width:187px;height:26px;padding-left:2px;">3-3-3-25</div>
<div class="c r peach n" style="left:374px;top:229px;width:92px;height:26px;">8.8%</div>
<div class="c r n" style="left:467px;top:229px;width:93px;height:26px;">17.6%</div>
<div class="c r n" style="left:561px;top:229px;width:92px;height:26px;">26.5%</div>
<div class="c  n" style="left:654px;top:229px;width:92px;height:26px;">C</div>
<div class="c  n" style="left:0px;top:256px;width:45px;height:27px;background:#e84c9a;color:#fff;">8</div>
<div class="c l alt" style="left:46px;top:256px;width:139px;height:27px;">増田充宏</div>
<div class="c l alt n" style="left:186px;top:256px;width:187px;height:27px;padding-left:2px;">39-51-64-492</div>
<div class="c r alt n" style="left:374px;top:256px;width:92px;height:27px;">6.0%</div>
<div class="c r alt n" style="left:467px;top:256px;width:93px;height:27px;">13.9%</div>
<div class="c r alt n" style="left:561px;top:256px;width:92px;height:27px;">23.8%</div>
<div class="c  alt n" style="left:654px;top:256px;width:92px;height:27px;">D</div>
</div>
<div class="t dn" style="left:6px;top:2266px;width:746px;height:283px">
<div class="c l cap" style="left:0px;top:0px;width:746px;height:32px;">●厩舎別成績　過去5年　頭数指定なし</div>
<div class="c h b15" style="left:0px;top:33px;width:45px;height:33px;">馬番</div>
<div class="c h b15" style="left:46px;top:33px;width:139px;height:33px;">厩舎</div>
<div class="c h b15" style="left:186px;top:33px;width:187px;height:33px;">着別度数</div>
<div class="c h b15" style="left:374px;top:33px;width:92px;height:33px;">勝率</div>
<div class="c h b15" style="left:467px;top:33px;width:93px;height:33px;">連対率</div>
<div class="c h b15" style="left:561px;top:33px;width:92px;height:33px;">複勝率</div>
<div class="c h b15" style="left:654px;top:33px;width:92px;height:33px;">評価</div>
<div class="c  n" style="left:0px;top:67px;width:45px;height:26px;background:#f2f2f2;color:#222;">1</div>
<div class="c l" style="left:46px;top:67px;width:139px;height:26px;">山崎裕也</div>
<div class="c l n" style="left:186px;top:67px;width:187px;height:26px;padding-left:2px;">92-76-80-447</div>
<div class="c r n" style="left:374px;top:67px;width:92px;height:26px;">13.2%</div>
<div class="c r n" style="left:467px;top:67px;width:93px;height:26px;">24.2%</div>
<div class="c r n" style="left:561px;top:67px;width:92px;height:26px;">35.7%</div>
<div class="c  n" style="left:654px;top:67px;width:92px;height:26px;">D</div>
<div class="c  n" style="left:0px;top:94px;width:45px;height:26px;background:#000;color:#fff;">2</div>
<div class="c l alt" style="left:46px;top:94px;width:139px;height:26px;">茂木浩幸</div>
<div class="c l alt n" style="left:186px;top:94px;width:187px;height:26px;padding-left:2px;">8-5-7-22</div>
<div class="c r peach n" style="left:374px;top:94px;width:92px;height:26px;">19.0%</div>
<div class="c r alt n" style="left:467px;top:94px;width:93px;height:26px;">31.0%</div>
<div class="c r alt n" style="left:561px;top:94px;width:92px;height:26px;">47.6%</div>
<div class="c  alt n" style="left:654px;top:94px;width:92px;height:26px;">B</div>
<div class="c  n" style="left:0px;top:121px;width:45px;height:27px;background:#ea4335;color:#fff;">3</div>
<div class="c l" style="left:46px;top:121px;width:139px;height:27px;">山崎裕也</div>
<div class="c l n" style="left:186px;top:121px;width:187px;height:27px;padding-left:2px;">92-76-80-447</div>
<div class="c r n" style="left:374px;top:121px;width:92px;height:27px;">13.2%</div>
<div class="c r n" style="left:467px;top:121px;width:93px;height:27px;">24.2%</div>
<div class="c r n" style="left:561px;top:121px;width:92px;height:27px;">35.7%</div>
<div class="c  n" style="left:654px;top:121px;width:92px;height:27px;">D</div>
<div class="c  n" style="left:0px;top:149px;width:45px;height:26px;background:#4285f4;color:#fff;">4</div>
<div class="c l alt" style="left:46px;top:149px;width:139px;height:26px;">内田勝義</div>
<div class="c l alt n" style="left:186px;top:149px;width:187px;height:26px;padding-left:2px;">83-87-69-410</div>
<div class="c r alt n" style="left:374px;top:149px;width:92px;height:26px;">12.8%</div>
<div class="c r alt n" style="left:467px;top:149px;width:93px;height:26px;">26.2%</div>
<div class="c r alt n" style="left:561px;top:149px;width:92px;height:26px;">36.8%</div>
<div class="c  alt n" style="left:654px;top:149px;width:92px;height:26px;">D</div>
<div class="c  n" style="left:0px;top:176px;width:45px;height:26px;background:#f4cd0c;color:#222;">5</div>
<div class="c l" style="left:46px;top:176px;width:139px;height:26px;">林隆之</div>
<div class="c l n" style="left:186px;top:176px;width:187px;height:26px;padding-left:2px;">52-59-43-252</div>
<div class="c r n" style="left:374px;top:176px;width:92px;height:26px;">12.8%</div>
<div class="c r n" style="left:467px;top:176px;width:93px;height:26px;">27.3%</div>
<div class="c r n" style="left:561px;top:176px;width:92px;height:26px;">37.9%</div>
<div class="c  n" style="left:654px;top:176px;width:92px;height:26px;">D</div>
<div class="c  n" style="left:0px;top:203px;width:45px;height:26px;background:#21a73a;color:#fff;">6</div>
<div class="c l alt" style="left:46px;top:203px;width:139px;height:26px;">甲田悟史</div>
<div class="c l alt n" style="left:186px;top:203px;width:187px;height:26px;padding-left:2px;">29-29-39-231</div>
<div class="c r alt n" style="left:374px;top:203px;width:92px;height:26px;">8.8%</div>
<div class="c r alt n" style="left:467px;top:203px;width:93px;height:26px;">17.7%</div>
<div class="c r alt n" style="left:561px;top:203px;width:92px;height:26px;">29.6%</div>
<div class="c  alt n" style="left:654px;top:203px;width:92px;height:26px;">D</div>
<div class="c  n" style="left:0px;top:230px;width:45px;height:26px;background:#e8981c;color:#fff;">7</div>
<div class="c l" style="left:46px;top:230px;width:139px;height:26px;">安池成実</div>
<div class="c l n" style="left:186px;top:230px;width:187px;height:26px;padding-left:2px;">26-36-34-221</div>
<div class="c r n" style="left:374px;top:230px;width:92px;height:26px;">8.2%</div>
<div class="c r n" style="left:467px;top:230px;width:93px;height:26px;">19.6%</div>
<div class="c r n" style="left:561px;top:230px;width:92px;height:26px;">30.3%</div>
<div class="c  n" style="left:654px;top:230px;width:92px;height:26px;">D</div>
<div class="c  n" style="left:0px;top:257px;width:45px;height:26px;background:#e84c9a;color:#fff;">8</div>
<div class="c l alt" style="left:46px;top:257px;width:139px;height:26px;">加藤誠一</div>
<div class="c l alt n" style="left:186px;top:257px;width:187px;height:26px;padding-left:2px;">35-31-29-225</div>
<div class="c r alt n" style="left:374px;top:257px;width:92px;height:26px;">10.9%</div>
<div class="c r alt n" style="left:467px;top:257px;width:93px;height:26px;">20.6%</div>
<div class="c r alt n" style="left:561px;top:257px;width:92px;height:26px;">29.7%</div>
<div class="c  alt n" style="left:654px;top:257px;width:92px;height:26px;">D</div>
</div>
</body></html>
